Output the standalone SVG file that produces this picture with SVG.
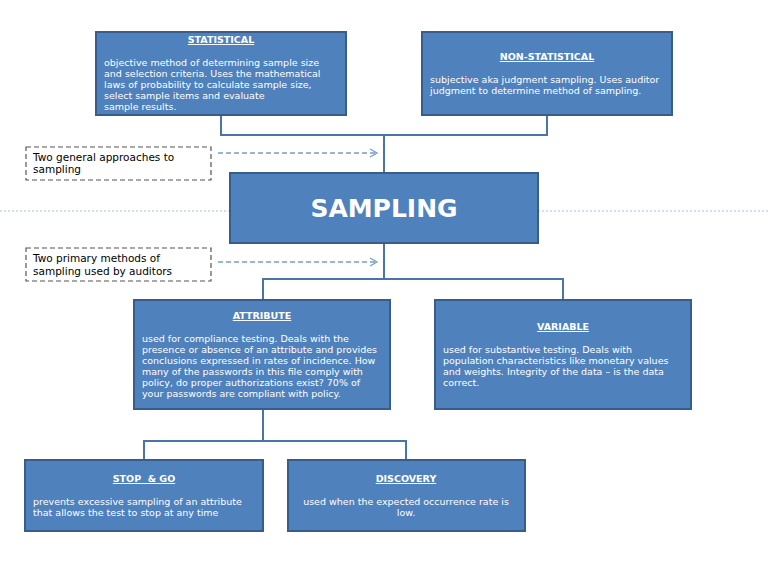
<svg xmlns="http://www.w3.org/2000/svg" width="768" height="576" viewBox="0 0 768 576">
<defs>
<style>
.box{fill:#4f81bd;stroke:#385d8a;stroke-width:2}
.t{font-family:"DejaVu Sans",sans-serif;font-size:9.5px;fill:#fff}
.h{font-weight:bold;text-decoration:underline;text-anchor:middle}
.n{font-family:"DejaVu Sans",sans-serif;font-size:10.5px;fill:#000}
.dash{fill:#fff;stroke:#555;stroke-width:1.2;stroke-dasharray:5,3}
.c{fill:none;stroke:#4a74a8;stroke-width:2}
.da{fill:none;stroke:#7a9cc6;stroke-width:1.3;stroke-dasharray:5,3}
.ah{fill:none;stroke:#7a9cc6;stroke-width:1.3}
</style>
</defs>
<line x1="0" y1="211" x2="230" y2="211" stroke="#a8c0de" stroke-width="1.2" stroke-dasharray="2,2"/>
<line x1="538" y1="211" x2="768" y2="211" stroke="#a8c0de" stroke-width="1.2" stroke-dasharray="2,2"/>
<g id="connectors">
<polyline class="c" points="221,115 221,135 547,135 547,115"/>
<line class="c" x1="384" y1="135" x2="384" y2="173"/>
<line class="c" x1="384" y1="243" x2="384" y2="279"/>
<polyline class="c" points="263,300 263,279 563,279 563,300"/>
<line class="c" x1="263" y1="409" x2="263" y2="441"/>
<polyline class="c" points="144,460 144,441 406,441 406,460"/>
<line class="da" x1="218" y1="153" x2="376" y2="153"/>
<polyline class="ah" points="370,149 377,153 370,157"/>
<line class="da" x1="218" y1="262" x2="376" y2="262"/>
<polyline class="ah" points="370,258 377,262 370,266"/>
</g>
<g id="statistical">
<rect class="box" x="96" y="32" width="250" height="83"/>
<text class="t h" x="221" y="43">STATISTICAL</text>
<text class="t" x="104" y="66">objective method of determining sample size</text>
<text class="t" x="104" y="77">and selection criteria. Uses the mathematical</text>
<text class="t" x="104" y="88">laws of probability to calculate sample size,</text>
<text class="t" x="104" y="99">select sample items and evaluate</text>
<text class="t" x="104" y="110">sample results.</text>
</g>
<g id="nonstatistical">
<rect class="box" x="422" y="32" width="250" height="83"/>
<text class="t h" x="547" y="60">NON-STATISTICAL</text>
<text class="t" x="430" y="83">subjective aka judgment sampling. Uses auditor</text>
<text class="t" x="430" y="94">judgment to determine method of sampling.</text>
</g>
<g id="note1">
<rect class="dash" x="26" y="147" width="185" height="33"/>
<text class="n" x="33" y="161">Two general approaches to</text>
<text class="n" x="33" y="173">sampling</text>
</g>
<g id="sampling">
<rect class="box" x="230" y="173" width="308" height="70"/>
<text x="384" y="217" text-anchor="middle" font-family="DejaVu Sans,sans-serif" font-size="25" font-weight="bold" fill="#fff">SAMPLING</text>
</g>
<g id="note2">
<rect class="dash" x="26" y="248" width="185" height="33"/>
<text class="n" x="33" y="262">Two primary methods of</text>
<text class="n" x="33" y="275">sampling used by auditors</text>
</g>
<g id="attribute">
<rect class="box" x="134" y="300" width="256" height="109"/>
<text class="t h" x="262" y="319">ATTRIBUTE</text>
<text class="t" x="142" y="342">used for compliance testing. Deals with the</text>
<text class="t" x="142" y="353">presence or absence of an attribute and provides</text>
<text class="t" x="142" y="364">conclusions expressed in rates of incidence. How</text>
<text class="t" x="142" y="375">many of the passwords in this file comply with</text>
<text class="t" x="142" y="386">policy, do proper authorizations exist? 70% of</text>
<text class="t" x="142" y="397">your passwords are compliant with policy.</text>
</g>
<g id="variable">
<rect class="box" x="435" y="300" width="256" height="109"/>
<text class="t h" x="563" y="330">VARIABLE</text>
<text class="t" x="443" y="353">used for substantive testing. Deals with</text>
<text class="t" x="443" y="364">population characteristics like monetary values</text>
<text class="t" x="443" y="375">and weights. Integrity of the data – is the data</text>
<text class="t" x="443" y="386">correct.</text>
</g>
<g id="stopgo">
<rect class="box" x="25" y="460" width="238" height="71"/>
<text class="t h" x="144" y="482" xml:space="preserve">STOP  &amp; GO</text>
<text class="t" x="33" y="505">prevents excessive sampling of an attribute</text>
<text class="t" x="33" y="516">that allows the test to stop at any time</text>
</g>
<g id="discovery">
<rect class="box" x="288" y="460" width="237" height="71"/>
<text class="t h" x="406" y="482">DISCOVERY</text>
<text class="t" x="406" y="505" text-anchor="middle">used when the expected occurrence rate is</text>
<text class="t" x="406" y="516" text-anchor="middle">low.</text>
</g>
</svg>
